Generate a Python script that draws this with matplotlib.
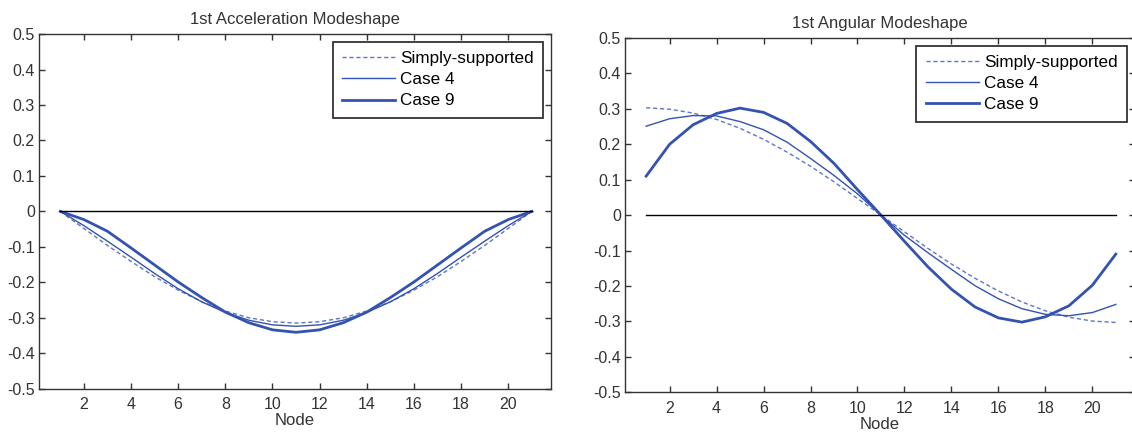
import matplotlib
matplotlib.use("Agg")
import matplotlib.pyplot as plt

plt.rcParams['font.family'] = ['Liberation Sans', 'DejaVu Sans']

# node numbers along the beam
nodes = list(range(1, 22))

# 1st acceleration modeshape
acc_ss = [0, -0.048, -0.096, -0.141, -0.184, -0.222, -0.255, -0.281, -0.300, -0.311, -0.315,
          -0.311, -0.300, -0.281, -0.255, -0.222, -0.184, -0.141, -0.096, -0.048, 0]
acc_case4 = [0, -0.040, -0.084, -0.129, -0.175, -0.218, -0.255, -0.285, -0.307, -0.320, -0.324,
             -0.320, -0.307, -0.285, -0.255, -0.218, -0.175, -0.129, -0.084, -0.040, 0]
acc_case9 = [0, -0.023, -0.056, -0.103, -0.151, -0.199, -0.243, -0.284, -0.314, -0.334, -0.341,
             -0.334, -0.314, -0.284, -0.243, -0.199, -0.151, -0.103, -0.056, -0.023, 0]

# 1st angular modeshape
ang_ss = [0.303, 0.299, 0.288, 0.270, 0.245, 0.214, 0.178, 0.138, 0.094, 0.047, 0,
          -0.047, -0.094, -0.138, -0.178, -0.214, -0.245, -0.270, -0.288, -0.299, -0.303]
ang_case4 = [0.251, 0.272, 0.281, 0.280, 0.264, 0.241, 0.206, 0.160, 0.112, 0.060, 0,
             -0.057, -0.106, -0.153, -0.199, -0.236, -0.264, -0.280, -0.284, -0.275, -0.252]
ang_case9 = [0.110, 0.200, 0.255, 0.287, 0.302, 0.290, 0.259, 0.208, 0.146, 0.072, 0,
             -0.074, -0.146, -0.209, -0.259, -0.290, -0.302, -0.287, -0.256, -0.198, -0.110]

labels = ['Simply-supported', 'Case 4', 'Case 9']
titles = ['1st Acceleration Modeshape', '1st Angular Modeshape']
yticks = [0.5, 0.4, 0.3, 0.2, 0.1, 0, -0.1, -0.2, -0.3, -0.4, -0.5]
xticks = list(range(2, 21, 2))

blue = '#3453b0'
fig = plt.figure(figsize=(11.32, 4.34), dpi=100)
ax1 = fig.add_axes([0.0345, 0.1044, 0.452, 0.817])
ax2 = fig.add_axes([0.5521, 0.0961, 0.4502, 0.8164])

for ax, title, (ss, c4, c9) in zip([ax1, ax2], titles,
                                    [(acc_ss, acc_case4, acc_case9),
                                     (ang_ss, ang_case4, ang_case9)]):
    ax.plot(nodes, ss, '--', color='#5a78c8', lw=1.0, dashes=(3, 2), label=labels[0])
    ax.plot(nodes, c4, '-', color=blue, lw=1.0, label=labels[1])
    ax.plot(nodes, c9, '-', color=blue, lw=2.0, label=labels[2])
    ax.plot([nodes[0], nodes[-1]], [0, 0], color='black', lw=1.0)

    ax.set_xlim(0.1, 21.8)
    ax.set_ylim(-0.5, 0.5)
    ax.set_xticks(xticks)
    ax.set_yticks(yticks)
    ax.set_yticklabels(['0' if v == 0 else f'{v:g}' for v in yticks])
    ax.tick_params(direction='in', top=True, right=True, length=4, width=1,
                   labelsize=11.5, colors='#333333', pad=6)
    ax.tick_params(axis='y', pad=3)
    for sp in ax.spines.values():
        sp.set_color('#333333')
        sp.set_linewidth(1.0)
    ax.set_title(title, fontsize=12, color='#333333', pad=7)
    ax.set_xlabel('Node', fontsize=12, color='#333333', labelpad=1)
    leg = ax.legend(loc='upper right', fontsize=12.3, handlelength=3.1, handletextpad=0.3,
                    labelspacing=0.36, borderaxespad=0.45, fancybox=False,
                    framealpha=1, borderpad=0.55)
    leg.get_frame().set_edgecolor('#333333')
    leg.get_frame().set_linewidth(1.3)

fig.savefig('out.png', dpi=100)
